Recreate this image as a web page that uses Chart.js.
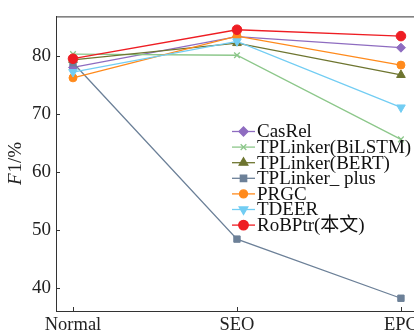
<!DOCTYPE html>
<html>
<head>
<meta charset="utf-8">
<script src="https://cdn.jsdelivr.net/npm/chart.js@4/dist/chart.umd.min.js"></script>
<style>
  html, body { margin: 0; padding: 0; background: #fff; overflow: hidden; }
  #wrap { width: 430px; height: 333px; }
</style>
</head>
<body>
<div id="wrap"><canvas id="chart" width="430" height="333"></canvas></div>
<script>
const categories = ['Normal', 'SEO', 'EPC'];
const yTicks = [40, 50, 60, 70, 80];

const casRel     = [78.0, 83.3, 81.4];
const tplBiLSTM  = [80.3, 80.1, 65.6];
const tplBERT    = [79.3, 82.2, 76.7];
const tplPlus    = [78.8, 48.4, 38.2];
const prgc       = [76.2, 83.4, 78.4];
const tdeer      = [77.2, 82.5, 71.1];
const roBPtr     = [79.5, 84.5, 83.4];

const FONT = '"Liberation Serif", "Times New Roman", "Noto Sans CJK SC", serif';
const AXIS = '#333';

const series = [
  { label: 'CasRel',           data: casRel,    color: '#8e6cc0', style: 'rectRot',  rot: 0,   r: 4.5 },
  { label: 'TPLinker(BiLSTM)', data: tplBiLSTM, color: '#8cc78a', style: 'crossRot', rot: 0,   r: 4 },
  { label: 'TPLinker(BERT)',   data: tplBERT,   color: '#6e7530', style: 'triangle', rot: 0,   r: 5 },
  { label: 'TPLinker_ plus',   data: tplPlus,   color: '#6c8098', style: 'rect',     rot: 0,   r: 4.5 },
  { label: 'PRGC',             data: prgc,      color: '#ff8a1c', style: 'circle',   rot: 0,   r: 4 },
  { label: 'TDEER',            data: tdeer,     color: '#72cdf3', style: 'triangle', rot: 180, r: 5 },
  { label: 'RoBPtr(本文)',      data: roBPtr,    color: '#ee1d23', style: 'circle',   rot: 0,   r: 4.8 }
];

const datasets = series.map((s, i) => ({
  label: s.label,
  data: s.data.map((v, j) => ({ x: j, y: v })),
  borderColor: s.color,
  backgroundColor: s.color,
  borderWidth: 1.3,
  pointStyle: s.style,
  pointRotation: s.rot,
  pointRadius: s.r,
  pointBorderWidth: s.style === 'crossRot' ? 1.3 : 1,
  order: series.length - 1 - i,
  tension: 0
}));

// inward ticks, top border, y title, legend inside plot
const decor = {
  id: 'decor',
  afterDatasetsDraw(chart) {
    const { ctx, chartArea: a, scales: { x, y } } = chart;
    ctx.save();
    ctx.strokeStyle = AXIS;
    ctx.lineWidth = 1;
    ctx.beginPath();
    ctx.moveTo(a.left, a.top + 0.5);
    ctx.lineTo(a.right, a.top + 0.5);
    yTicks.forEach(v => {
      const py = Math.round(y.getPixelForValue(v)) + 0.5;
      ctx.moveTo(a.left, py); ctx.lineTo(a.left + 4, py);
    });
    categories.forEach((c, j) => {
      const px = Math.round(x.getPixelForValue(j)) + 0.5;
      ctx.moveTo(px, a.bottom); ctx.lineTo(px, a.bottom - 4);
    });
    ctx.stroke();

    // y title: italic F + "1/%"
    ctx.translate(16, 164);
    ctx.rotate(-Math.PI / 2);
    ctx.fillStyle = '#222';
    ctx.textBaseline = 'middle';
    ctx.font = 'italic 19px ' + FONT;
    const wF = ctx.measureText('F').width;
    ctx.font = '19px ' + FONT;
    const wRest = ctx.measureText('1/%').width;
    const x0 = -(wF + wRest) / 2;
    ctx.font = 'italic 19px ' + FONT;
    ctx.fillText('F', x0, 0);
    ctx.font = '19px ' + FONT;
    ctx.fillText('1/%', x0 + wF + 1, 0);
    ctx.restore();

    // legend
    ctx.save();
    ctx.font = '19px ' + FONT;
    ctx.textBaseline = 'middle';
    series.forEach((s, i) => {
      const ly = 131.5 + i * 15.6;
      ctx.strokeStyle = s.color;
      ctx.lineWidth = 1.3;
      ctx.beginPath();
      ctx.moveTo(232, ly); ctx.lineTo(255, ly);
      ctx.stroke();
      ctx.fillStyle = s.color;
      Chart.helpers.drawPoint(ctx, {
        pointStyle: s.style, rotation: s.rot, radius: s.r,
        borderWidth: s.style === 'crossRot' ? 1.3 : 1
      }, 243.5, ly);
      ctx.fillStyle = '#111';
      ctx.fillText(s.label, 257, ly + 1);
    });
    ctx.restore();
  }
};

new Chart(document.getElementById('chart'), {
  type: 'line',
  data: { datasets },
  options: {
    responsive: false,
    animation: false,
    layout: { padding: { top: 9, right: 12, left: 0, bottom: 0 } },
    plugins: { legend: { display: false }, tooltip: { enabled: false } },
    scales: {
      x: {
        type: 'linear',
        min: -0.1037,
        max: 2.104,
        afterBuildTicks: s => { s.ticks = categories.map((c, j) => ({ value: j })); },
        afterFit: s => { s.height = 22; },
        grid: { display: false, drawTicks: false },
        border: { display: true, color: AXIS, width: 1 },
        ticks: {
          padding: 3,
          color: '#222',
          font: { family: FONT, size: 18.5 },
          callback: v => categories[v]
        }
      },
      y: {
        min: 36,
        max: 86.8,
        afterBuildTicks: s => { s.ticks = yTicks.map(v => ({ value: v })); },
        afterFit: s => { s.width = 56; },
        grid: { display: false, drawTicks: false },
        border: { display: true, color: AXIS, width: 1 },
        ticks: {
          padding: 5,
          color: '#222',
          font: { family: FONT, size: 19 }
        }
      }
    }
  },
  plugins: [decor]
});
</script>
</body>
</html>
